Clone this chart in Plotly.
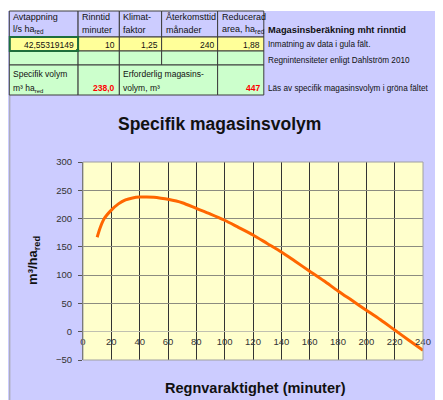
import plotly.graph_objects as go

# ---- data ----
durations = [10, 12, 15, 20, 25, 30, 35, 40, 45, 50, 55, 60, 70, 80, 90, 100,
             110, 120, 130, 140, 150, 160, 170, 180, 190, 200, 210, 220, 230, 240]
volumes = [167, 183, 200, 215, 226, 233, 236.5, 238, 238, 237.5, 236, 234, 228, 218, 208, 197,
           184, 171, 156, 141, 124, 107, 90, 72, 55, 38, 21, 3, -15, -33]

header_labels = [["Avtappning", "l/s ha<sub>red</sub>"], ["Rinntid", "minuter"],
                 ["Klimat-", "faktor"], ["Återkomsttid", "månader"],
                 ["Reducerad", "area, ha<sub>red</sub>"]]
input_values = ["42,55319149", "10", "1,25", "240", "1,88"]
result_specific = "238,0"
result_volume = "447"
info_lines = ["Inmatning av data i gula fält.", "Regnintensiteter enligt Dahlström 2010",
              "Läs av specifik magasinsvolym i gröna fältet"]

# page body has an 8px margin; the figure starts at (8, 8) of the window
OFF = 8
W, H = 443 - OFF, 400 - OFF
ML, MR, MT, MB = 83 - OFF, 14, 162 - OFF, 40
PW, PH = W - ML - MR, H - MT - MB

def X(px):  # px: window pixel x
    return (px - OFF - ML) / PW

def Y(py):  # py: window pixel y
    return (H - MB - (py - OFF)) / PH

FONT = "Liberation Sans, Arial, sans-serif"
LAV = "#ccccff"
YEL = "#ffff99"
GRN = "#ccffcc"
BORDER = "#3c3c3c"

shapes = []
annotations = []

def rect(x0, y0, x1, y1, fill=None, line=None, width=1, layer="above"):
    d = dict(type="rect", xref="paper", yref="paper",
             x0=X(x0), x1=X(x1), y0=Y(y1), y1=Y(y0), layer=layer)
    d["fillcolor"] = fill if fill else "rgba(0,0,0,0)"
    d["line"] = dict(color=line if line else "rgba(0,0,0,0)", width=width if line else 0)
    shapes.append(d)

def text(px, py, s, size=8.5, color="#111", anchor="left", bold=False):
    if bold:
        s = "<b>" + s + "</b>"
    annotations.append(dict(xref="paper", yref="paper", x=X(px), y=Y(py), text=s,
                            showarrow=False, xanchor=anchor, yanchor="middle",
                            font=dict(family=FONT, size=size, color=color)))

# white strip above the table
rect(0, 0, 443, 11, fill="white")
shapes.append(dict(type="line", xref="paper", yref="paper", x0=X(8.5), x1=X(8.5),
                   y0=Y(95), y1=Y(400), line=dict(color="#a0a0a0", width=1)))

cols = [8, 78, 120, 163, 220, 267]
rows = [11, 37, 51, 65, 95]
for i in range(5):
    rect(cols[i], rows[0], cols[i + 1], rows[1], fill=LAV, line=BORDER)
    rect(cols[i], rows[1], cols[i + 1], rows[2], fill=YEL, line=BORDER)
    rect(cols[i], rows[2], cols[i + 1], rows[3], fill=GRN, line=BORDER)
for a, b in [(8, 78), (78, 120), (120, 220), (220, 267)]:
    rect(a, rows[3], b, rows[4], fill=GRN, line=BORDER)
# selected cell
rect(8.5, 37, 78, 51, line="#1e6e3c", width=2)
rect(76, 49, 79, 52, fill="#1e6e3c")

for i, (l1, l2) in enumerate(header_labels):
    text(cols[i] + 2, 17.5, l1, size=9)
    text(cols[i] + 2, 29.5, l2, size=9)
for i, v in enumerate(input_values):
    text(cols[i + 1] - 2, 44.5, v, size=8.5, anchor="right")

text(10, 74, "Specifik volym", size=8.5)
text(10, 88, "m³ ha<sub>red</sub>", size=8.5)
text(118, 88, result_specific, size=8.5, color="#ff0000", anchor="right", bold=True)
text(122, 74, "Erforderlig magasins-", size=8.5)
text(122, 88, "volym, m³", size=8.5)
text(265, 88, result_volume, size=8.5, color="#ff0000", anchor="right", bold=True)

text(269, 29.5, "Magasinsberäkning mht rinntid", size=9.3, bold=True)
text(269, 44.5, info_lines[0], size=8.2)
text(269, 60.5, info_lines[1], size=8.2)
text(269, 88, info_lines[2], size=8.2)

# chart texts
text(222, 124.5, "Specifik magasinsvolym", size=17.5, anchor="center", bold=True)
text(259, 388, "Regnvaraktighet (minuter)", size=14.5, anchor="center", bold=True)
annotations.append(dict(xref="paper", yref="paper", x=X(32), y=Y(260),
                        text="<b>m³/ha<sub>red</sub></b>", textangle=-90, showarrow=False,
                        xanchor="center", yanchor="middle",
                        font=dict(family=FONT, size=13, color="#111")))

# plot border
shapes.append(dict(type="rect", xref="paper", yref="paper", x0=0, x1=1, y0=0, y1=1,
                   line=dict(color="#a0a0a0", width=1)))

fig = go.Figure()
fig.add_trace(go.Scatter(x=durations, y=volumes, mode="lines",
                         line=dict(color="#ff6600", width=3, shape="spline", smoothing=0.8),
                         hoverinfo="x+y", showlegend=False))

fig.update_layout(
    width=W, height=H,
    margin=dict(l=ML, r=MR, t=MT, b=MB, pad=0),
    paper_bgcolor=LAV, plot_bgcolor="#ffffcc",
    font=dict(family=FONT, size=9.5, color="#333"),
    shapes=shapes, annotations=annotations,
    xaxis=dict(range=[0, 240], tick0=0, dtick=20, showgrid=True, gridcolor="#333",
               gridwidth=1, zeroline=False, showline=False, ticks="",
               anchor="free", position=50 / 350, tickfont=dict(size=9.5, color="#333"),
               ticklabelstandoff=3, fixedrange=True),
    yaxis=dict(range=[-50, 300], tick0=-50, dtick=50, showgrid=True, gridcolor="#8c8c80",
               gridwidth=1, zeroline=True, zerolinecolor="#c0c0b0", zerolinewidth=1,
               showline=True, linecolor="#555", linewidth=1, ticks="outside", ticklen=4,
               tickcolor="#555", tickfont=dict(size=9.5, color="#333"),
               ticklabelstandoff=4, fixedrange=True),
)

fig.write_html("out.html")
